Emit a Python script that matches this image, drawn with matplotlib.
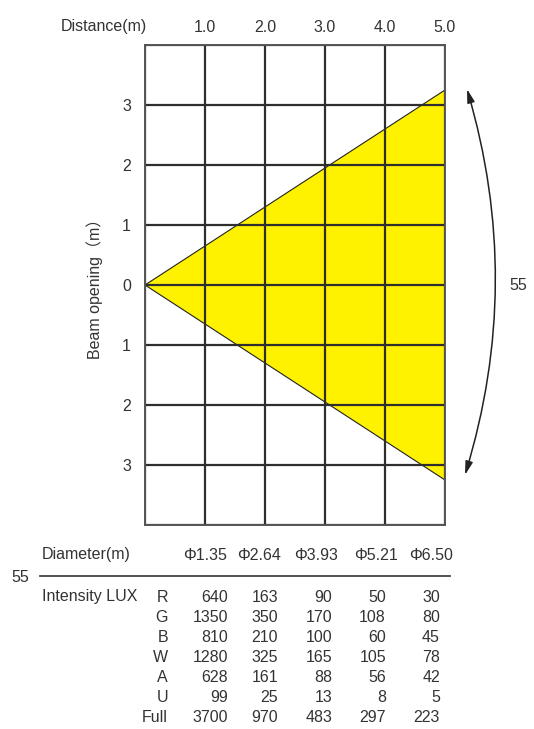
import numpy as np
import matplotlib.pyplot as plt
from matplotlib.patches import Polygon

plt.rcParams['font.family'] = ['Liberation Sans', 'Noto Sans CJK SC', 'DejaVu Sans']

W, H = 534, 729
txt_col = "#333333"
grid_col = "#2e2e2e"
fs = 11.5

# data
distances = [1.0, 2.0, 3.0, 4.0, 5.0]
diameters = [1.35, 2.64, 3.93, 5.21, 6.50]
beam_angle = 55
channels = ["R", "G", "B", "W", "A", "U", "Full"]
lux = [
    [640, 163, 90, 50, 30],
    [1350, 350, 170, 108, 80],
    [810, 210, 100, 60, 45],
    [1280, 325, 165, 105, 78],
    [628, 161, 88, 56, 42],
    [99, 25, 13, 8, 5],
    [3700, 970, 483, 297, 223],
]


def fx(px):
    return px / W


def fy(py):
    return 1 - py / H


fig = plt.figure(figsize=(W / 100, H / 100), dpi=100)
ax = fig.add_axes([fx(145), fy(525), 300 / W, 480 / H])

# beam triangle
half = diameters[-1] / 2
tri = Polygon([(0, 0), (distances[-1], half), (distances[-1], -half)], closed=True,
              facecolor="#fff200", edgecolor="#222222", linewidth=0.8, zorder=1)
ax.add_patch(tri)

ax.set_xlim(0, 5)
ax.set_ylim(-4, 4)
ax.set_xticks([0] + distances)
ax.set_xticklabels([""] + [f"{d:.1f}" for d in distances])
ax.set_yticks(range(-4, 5))
ax.set_yticklabels(["" if abs(v) == 4 else str(abs(v)) for v in range(-4, 5)])
ax.xaxis.tick_top()
ax.tick_params(length=0, labelsize=fs, labelcolor=txt_col, pad=7)
ax.tick_params(axis="y", pad=10)
ax.grid(True, color=grid_col, linewidth=1.6)
for s in ax.spines.values():
    s.set_color("#555555")
    s.set_linewidth(1.4)

ax.set_ylabel("Beam opening（m）", fontsize=fs, color=txt_col, labelpad=14)
fig.text(fx(104), fy(27), "Distance(m)", fontsize=fs, color=txt_col,
         ha="center", va="center")

# beam angle arrow
ax.annotate("", xy=(fx(465), fy(475)), xytext=(fx(467), fy(89)),
            xycoords="figure fraction", textcoords="figure fraction",
            arrowprops=dict(arrowstyle="<|-|>,head_length=0.8,head_width=0.22",
                            connectionstyle="arc3,rad=-0.15", color="#222222",
                            linewidth=1.1, shrinkA=0, shrinkB=0),
            annotation_clip=False)
fig.text(fx(518), fy(285), str(beam_angle), fontsize=fs, color=txt_col,
         ha="center", va="center")

# table
col_center = [205, 259, 316, 376, 431]
col_right = [228, 278, 332, 386, 440]
fig.text(fx(42), fy(555), "Diameter(m)", fontsize=fs, color=txt_col,
         ha="left", va="center")
for cx, d in zip(col_center, diameters):
    fig.text(fx(cx), fy(555), f"Φ{d:.2f}", fontsize=fs, color=txt_col,
             ha="center", va="center")
fig.add_artist(plt.Line2D([fx(40), fx(450)], [fy(576), fy(576)],
                          color="#444444", linewidth=1.3))
fig.text(fx(20), fy(578), str(beam_angle), fontsize=fs, color=txt_col,
         ha="center", va="center")
fig.text(fx(42), fy(597), "Intensity LUX", fontsize=fs, color=txt_col,
         ha="left", va="center")
for i, (ch, row) in enumerate(zip(channels, lux)):
    y = 597 + 20 * i
    fig.text(fx(168), fy(y), ch, fontsize=fs, color=txt_col, ha="right", va="center")
    for xr, v in zip(col_right, row):
        fig.text(fx(xr), fy(y), str(v), fontsize=fs, color=txt_col,
                 ha="right", va="center")

fig.savefig("out.png", dpi=100)
